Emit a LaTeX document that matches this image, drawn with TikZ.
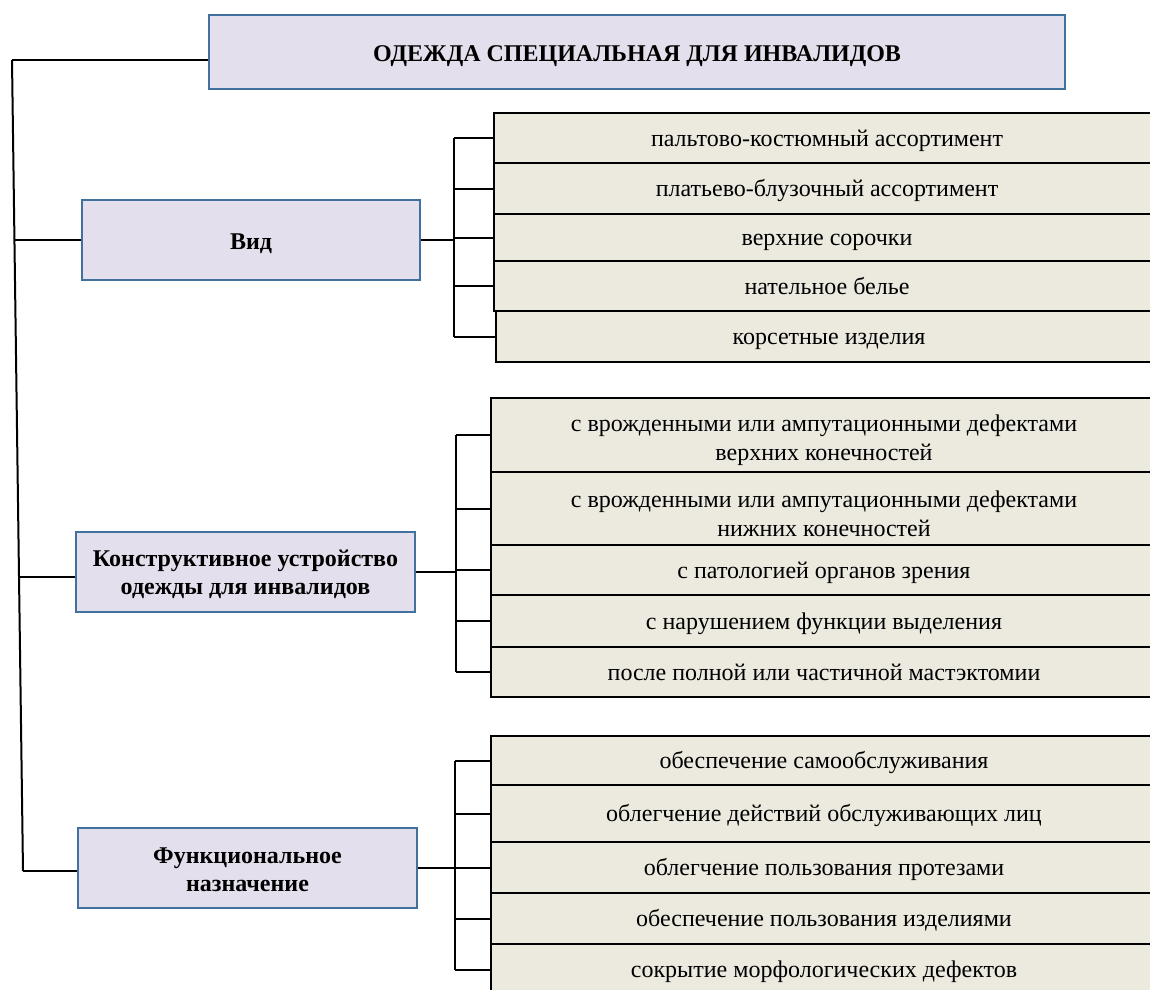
\documentclass[tikz,border=0pt]{standalone}
\usepackage{fontspec}
\setmainfont{Liberation Serif}
\definecolor{lav}{HTML}{E4DFEC}
\definecolor{lavborder}{HTML}{41719C}
\definecolor{beige}{HTML}{ECE9DF}
\newcommand{\topstrut}[1]{\rule{0pt}{#1}}
\tikzset{
  head/.style={draw=lavborder, fill=lav, line width=1.8pt, font=\bfseries\fontsize{24}{28}\selectfont, align=center, inner sep=0pt},
  headone/.style={head, text height=23pt, text depth=4pt},
  item/.style={draw=black, fill=beige, line width=2pt, font=\fontsize{24}{29}\selectfont, align=center, inner sep=0pt, minimum width=666pt},
  itemone/.style={item, text height=21pt, text depth=5pt},
  conn/.style={draw=black, line width=2pt},
}
\begin{document}
\begin{tikzpicture}[x=1pt,y=-1pt]
\useasboundingbox (0,0) rectangle (1150,989);
\clip (0,0) rectangle (1150,989);
% heads
\node[headone, minimum width=856pt, minimum height=74pt] (title) at (637,52) {ОДЕЖДА СПЕЦИАЛЬНАЯ ДЛЯ ИНВАЛИДОВ};
\node[headone, minimum width=338pt, minimum height=80pt] (vid) at (251,240) {Вид};
\node[head, minimum width=339pt, minimum height=80pt] (konstr) at (245.5,572) {\topstrut{21pt}Конструктивное устройство\\одежды для инвалидов};
\node[head, minimum width=339pt, minimum height=80pt] (func) at (247.5,868) {\topstrut{19pt}Функциональное\\назначение};
% branch 1 items
\node[itemone, minimum height=50pt] (a1) at (827,138) {пальтово-костюмный ассортимент};
\node[itemone, minimum height=51pt] (a2) at (827,188.5) {платьево-блузочный ассортимент};
\node[itemone, minimum height=47pt] (a3) at (827,237.5) {верхние сорочки};
\node[itemone, minimum height=50pt] (a4) at (827,286) {нательное белье};
\node[itemone, minimum height=51pt] (a5) at (829,336.5) {корсетные изделия};
% branch 2 items
\node[item, minimum height=74pt] (b1) at (824,435) {\topstrut{27pt}с врожденными или ампутационными дефектами\\верхних конечностей};
\node[item, minimum height=73pt] (b2) at (824,508.5) {\topstrut{27pt}с врожденными или ампутационными дефектами\\нижних конечностей};
\node[itemone, minimum height=50pt] (b3) at (824,570) {с патологией органов зрения};
\node[itemone, minimum height=52pt] (b4) at (824,621) {с нарушением функции выделения};
\node[itemone, minimum height=50pt] (b5) at (824,672) {после полной или частичной мастэктомии};
% branch 3 items
\node[itemone, minimum height=49pt] (c1) at (824,760.5) {обеспечение самообслуживания};
\node[itemone, minimum height=57pt] (c2) at (824,813.5) {облегчение действий обслуживающих лиц};
\node[itemone, minimum height=51pt] (c3) at (824,867.5) {облегчение пользования протезами};
\node[itemone, minimum height=51pt] (c4) at (824,918.5) {обеспечение пользования изделиями};
\node[itemone, minimum height=51pt] (c5) at (824,969.5) {сокрытие морфологических дефектов};
% trunk
\coordinate (ttop) at (12,60);
\coordinate (tbot) at (23,871);
\draw[conn] (ttop) -- (tbot);
\draw[conn] (ttop) -- (ttop -| title.west);
\coordinate (t1) at (14.6,240);
\coordinate (t2) at (19.2,577);
\coordinate (t3) at (23,871);
\draw[conn] (t1) -- (t1 -| vid.west);
\draw[conn] (t2) -- (t2 -| konstr.west);
\draw[conn] (t3) -- (t3 -| func.west);
% bracket 1
\coordinate (k1) at (454,0);
\draw[conn] (vid.east) -- (vid.east -| k1);
\draw[conn] (a1.west -| k1) -- (a5.west -| k1);
\foreach \n in {a1,a2,a3,a4,a5} \draw[conn] (\n.west -| k1) -- (\n.west);
% bracket 2
\coordinate (k2) at (456,0);
\draw[conn] (konstr.east) -- (konstr.east -| k2);
\draw[conn] (b1.west -| k2) -- (b5.west -| k2);
\foreach \n in {b1,b2,b3,b4,b5} \draw[conn] (\n.west -| k2) -- (\n.west);
% bracket 3
\coordinate (k3) at (455,0);
\draw[conn] (func.east) -- (func.east -| k3);
\draw[conn] (c1.west -| k3) -- (c5.west -| k3);
\foreach \n in {c1,c2,c3,c4,c5} \draw[conn] (\n.west -| k3) -- (\n.west);
\end{tikzpicture}
\end{document}
